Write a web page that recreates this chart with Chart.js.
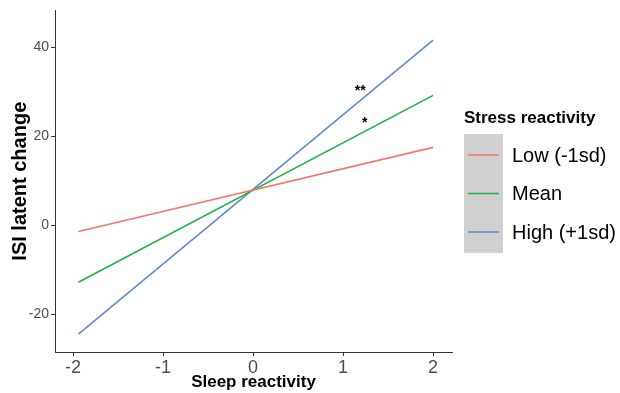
<!DOCTYPE html>
<html>
<head>
<meta charset="utf-8">
<script src="https://cdn.jsdelivr.net/npm/chart.js@4"></script>
<style>
  html, body { margin: 0; padding: 0; background: #fff; }
  #wrap { width: 620px; height: 393px; }
</style>
</head>
<body>
<div id="wrap"><canvas id="myChart" width="620" height="393"></canvas></div>
<script>
// data
const xPoints = [-1.94, 2];
const lowValues = [-1.4, 17.5];
const meanValues = [-12.8, 29.2];
const highValues = [-24.5, 41.6];
const seriesNames = ['Low (-1sd)', 'Mean', 'High (+1sd)'];
const seriesColors = ['#F8766D', '#1fb24a', '#6188cf'];
const xTicks = [-2, -1, 0, 1, 2];
const yTicks = [-20, 0, 20, 40];
const stars = [
  { text: '**', x: 1.19, y: 30.2 },
  { text: '*', x: 1.24, y: 23.0 }
];

const FONT = '"Liberation Sans", Arial, sans-serif';

function toPoints(values) {
  return xPoints.map((x, i) => ({ x: x, y: values[i] }));
}

// significance stars + ggplot-style legend with grey key box
const extras = {
  id: 'extras',
  afterDraw: (chart) => {
    const { ctx, scales: { x, y } } = chart;
    ctx.save();
    ctx.fillStyle = '#000';
    ctx.font = 'bold 14px ' + FONT;
    ctx.textAlign = 'center';
    ctx.textBaseline = 'middle';
    stars.forEach(s => {
      ctx.fillText(s.text, x.getPixelForValue(s.x), y.getPixelForValue(s.y));
    });

    // legend
    ctx.textAlign = 'left';
    ctx.font = 'bold 17px ' + FONT;
    ctx.fillText('Stress reactivity', 464, 118);
    ctx.fillStyle = '#d0d0d0';
    ctx.fillRect(464, 134, 39, 119);
    ctx.font = '20px ' + FONT;
    seriesNames.forEach((name, i) => {
      const yy = 155 + i * 38.5;
      ctx.strokeStyle = seriesColors[i];
      ctx.lineWidth = 1.5;
      ctx.beginPath();
      ctx.moveTo(468, yy);
      ctx.lineTo(499, yy);
      ctx.stroke();
      ctx.fillStyle = '#000';
      ctx.fillText(name, 512, yy + 1);
    });
    ctx.restore();
  }
};

const config = {
  type: 'line',
  data: {
    datasets: [
      { label: seriesNames[0], data: toPoints(lowValues) },
      { label: seriesNames[1], data: toPoints(meanValues) },
      { label: seriesNames[2], data: toPoints(highValues) }
    ].map((d, i) => Object.assign(d, {
      borderColor: seriesColors[i],
      backgroundColor: seriesColors[i],
      borderWidth: 1.6,
      pointRadius: 0,
      fill: false,
      tension: 0
    }))
  },
  options: {
    responsive: false,
    animation: false,
    layout: { padding: { top: 10, right: 168, bottom: 0, left: 8 } },
    scales: {
      x: {
        type: 'linear',
        min: -2.2,
        max: 2.21,
        afterBuildTicks: (scale) => { scale.ticks = xTicks.map(v => ({ value: v })); },
        afterFit: (scale) => { scale.height = 41; },
        border: { display: true, color: '#333', width: 1 },
        grid: { drawOnChartArea: false, drawTicks: true, tickLength: 4, color: '#333' },
        ticks: { color: '#4d4d4d', padding: 1, font: { family: FONT, size: 18 } },
        title: {
          display: true,
          text: 'Sleep reactivity',
          color: '#000',
          padding: { top: -2, bottom: 0 },
          font: { family: FONT, size: 17, weight: 'bold' }
        }
      },
      y: {
        min: -28.5,
        max: 48.3,
        afterBuildTicks: (scale) => { scale.ticks = yTicks.map(v => ({ value: v })); },
        afterFit: (scale) => { scale.width = 47; },
        border: { display: true, color: '#333', width: 1 },
        grid: { drawOnChartArea: false, drawTicks: true, tickLength: 4, color: '#333' },
        ticks: { color: '#4d4d4d', padding: 2, font: { family: FONT, size: 14 } },
        title: {
          display: true,
          text: 'ISI latent change',
          color: '#000',
          padding: { top: 0, bottom: 0 },
          font: { family: FONT, size: 20, weight: 'bold' }
        }
      }
    },
    plugins: {
      legend: { display: false },
      tooltip: { enabled: false }
    }
  },
  plugins: [extras]
};

const myChart = new Chart(document.getElementById('myChart'), config);
</script>
</body>
</html>
